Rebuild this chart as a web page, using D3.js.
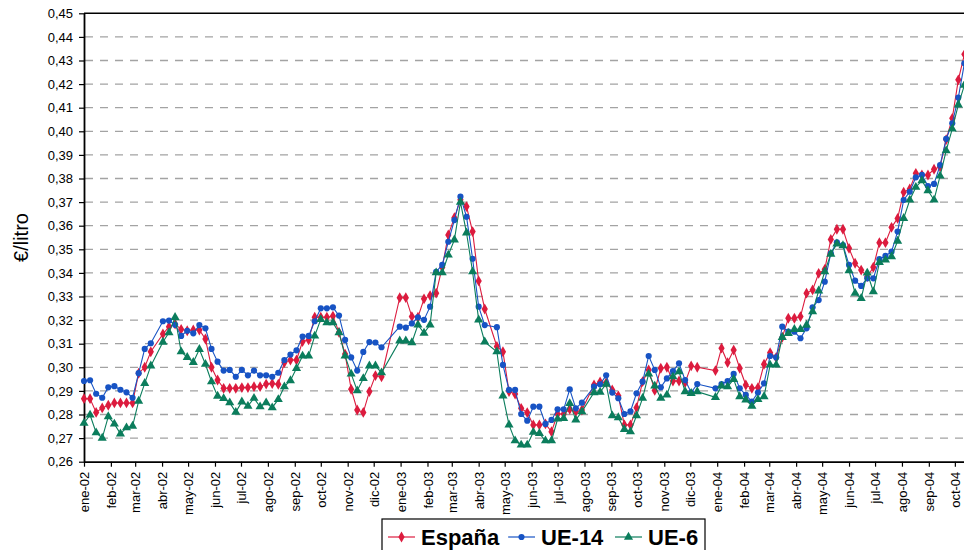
<!DOCTYPE html>
<html>
<head>
<meta charset="utf-8">
<script src="https://cdn.jsdelivr.net/npm/d3@7"></script>
<style>
  body { margin: 0; background: #fff; }
  svg { display: block; font-family: Arial, "Liberation Sans", sans-serif; }
</style>
</head>
<body>
<svg id="chart" width="964" height="550"></svg>
<script>
// Precio medio semanal (€/litro), una observación por semana desde la primera semana de 2002.
// null = semana sin dato (festivos); la línea une los puntos contiguos con dato.
const primeraSemana = new Date(2002, 0, 1);

const espana = [
  0.2867, 0.2867, 0.2809, 0.2828, 0.2839, 0.2849, 0.2849, 0.2849, 0.2849, 0.2975,
  0.3000, 0.3066, null,   0.3141, 0.3172, 0.3183, 0.3161, 0.3155, 0.3158, 0.3158,
  0.3120, 0.3000, 0.2946, 0.2911, 0.2911, 0.2911, 0.2914, 0.2914, 0.2918, 0.2918,
  0.2929, 0.2931, 0.2928, 0.3020, 0.3031, 0.3031, 0.3109, 0.3116, 0.3212, 0.3212,
  0.3212, 0.3217, 0.3148, 0.3056, 0.2907, 0.2819, 0.2809, 0.2897, 0.2965, 0.2960,
  null,   null,   0.3295, 0.3295, 0.3215, 0.3212, 0.3290, 0.3304, 0.3314, 0.3424,
  0.3561, 0.3634, 0.3710, 0.3681, 0.3575, 0.3366, 0.3247, null,   0.3088, 0.3066,
  0.2897, 0.2887, 0.2826, 0.2808, 0.2756, 0.2756, 0.2760, 0.2727, 0.2802, 0.2802,
  0.2822, 0.2812, 0.2819, null,   0.2925, 0.2938, 0.2935, 0.2904, 0.2879, 0.2756,
  0.2756, 0.2829, 0.2939, 0.2989, 0.2902, 0.2996, 0.3000, 0.2942, 0.2942, 0.2935,
  0.3006, 0.3000, null,   null,   0.2986, 0.3081, 0.3020, 0.3073, 0.2996, 0.2925,
  0.2911, 0.2914, 0.3013, 0.3062, 0.3042, 0.3127, 0.3208, 0.3208, 0.3215, 0.3314,
  0.3328, 0.3398, 0.3415, 0.3542, 0.3585, 0.3585, 0.3504, 0.3441, 0.3412, 0.3384,
  0.3424, 0.3528, 0.3528, 0.3593, 0.3631, 0.3742, 0.3756, 0.3822, 0.3815, 0.3815,
  0.3839, 0.3850, 0.3965, 0.4055, 0.4218, 0.4326
];

const ue14 = [
  0.2942, 0.2945, 0.2888, 0.2871, 0.2915, 0.2920, 0.2905, 0.2894, 0.2871, 0.2975,
  0.3078, 0.3102, null,   0.3195, 0.3198, 0.3180, 0.3133, 0.3155, 0.3144, 0.3179,
  0.3165, 0.3078, 0.3024, 0.2986, 0.2989, 0.2960, 0.2989, 0.2966, 0.2986, 0.2966,
  0.2966, 0.2960, 0.2977, 0.3031, 0.3054, 0.3072, 0.3130, 0.3133, 0.3195, 0.3250,
  0.3250, 0.3254, 0.3219, 0.3116, 0.3042, 0.2986, 0.3065, 0.3107, 0.3105, 0.3085,
  null,   null,   0.3172, 0.3168, 0.3186, 0.3212, 0.3201, 0.3257, 0.3405, 0.3434,
  0.3532, 0.3624, 0.3723, 0.3638, 0.3460, 0.3257, 0.3179, null,   0.3170, 0.3010,
  0.2904, 0.2904, 0.2802, 0.2774, 0.2833, 0.2833, 0.2760, 0.2777, 0.2822, 0.2822,
  0.2907, 0.2826, 0.2850, null,   0.2918, 0.2928, 0.2966, 0.2893, 0.2869, 0.2802,
  0.2813, 0.2890, 0.2939, 0.3048, 0.2989, 0.2915, 0.2953, 0.2984, 0.3017, 0.2946,
  0.2893, 0.2929, null,   null,   0.2911, 0.2929, 0.2942, 0.2972, 0.2911, 0.2883,
  0.2855, 0.2893, 0.2932, 0.3048, 0.3042, 0.3172, 0.3151, 0.3151, 0.3123, 0.3165,
  0.3254, 0.3285, 0.3363, 0.3483, 0.3530, 0.3518, 0.3434, 0.3367, 0.3345, 0.3377,
  0.3377, 0.3458, 0.3472, 0.3490, 0.3575, 0.3709, 0.3744, 0.3805, 0.3815, 0.3768,
  0.3777, 0.3857, 0.3968, 0.4034, 0.4143, 0.4288
];

const ue6 = [
  0.2763, 0.2798, 0.2723, 0.2700, 0.2791, 0.2760, 0.2718, 0.2744, 0.2751, 0.2857,
  0.2932, 0.3006, null,   0.3107, 0.3147, 0.3212, 0.3066, 0.3042, 0.3021, 0.3076,
  0.3013, 0.2939, 0.2878, 0.2868, 0.2850, 0.2810, 0.2854, 0.2836, 0.2869, 0.2833,
  0.2850, 0.2829, 0.2864, 0.2918, 0.2944, 0.2996, 0.3048, 0.3048, 0.3133, 0.3203,
  0.3189, 0.3189, 0.3147, 0.3048, 0.2972, 0.2901, 0.2953, 0.3006, 0.3006, 0.2977,
  null,   null,   0.3112, 0.3112, 0.3105, 0.3180, 0.3145, 0.3180, 0.3401, 0.3401,
  0.3476, 0.3540, 0.3700, 0.3570, 0.3405, 0.3201, 0.3108, null,   0.3066, 0.2879,
  0.2756, 0.2689, 0.2671, 0.2671, 0.2725, 0.2720, 0.2689, 0.2689, 0.2781, 0.2784,
  0.2847, 0.2777, 0.2812, null,   0.2893, 0.2895, 0.2929, 0.2795, 0.2787, 0.2737,
  0.2727, 0.2795, 0.2869, 0.2972, 0.2921, 0.2869, 0.2883, 0.2960, 0.2982, 0.2897,
  0.2890, 0.2897, null,   null,   0.2873, 0.2921, 0.2918, 0.2949, 0.2876, 0.2862,
  0.2836, 0.2864, 0.2876, 0.3010, 0.3010, 0.3127, 0.3144, 0.3161, 0.3161, 0.3179,
  0.3236, 0.3324, 0.3405, 0.3480, 0.3523, 0.3516, 0.3410, 0.3314, 0.3292, 0.3400,
  0.3321, 0.3445, 0.3455, 0.3469, 0.3535, 0.3631, 0.3709, 0.3763, 0.3791, 0.3749,
  0.3709, 0.3811, 0.3918, 0.4010, 0.4112, 0.4196
];

const yTickValues = [0.26, 0.27, 0.28, 0.29, 0.30, 0.31, 0.32, 0.33, 0.34, 0.35,
                     0.36, 0.37, 0.38, 0.39, 0.40, 0.41, 0.42, 0.43, 0.44, 0.45];

const monthLabels = [
  "ene-02", "feb-02", "mar-02", "abr-02", "may-02", "jun-02", "jul-02", "ago-02", "sep-02", "oct-02", "nov-02", "dic-02",
  "ene-03", "feb-03", "mar-03", "abr-03", "may-03", "jun-03", "jul-03", "ago-03", "sep-03", "oct-03", "nov-03", "dic-03",
  "ene-04", "feb-04", "mar-04", "abr-04", "may-04", "jun-04", "jul-04", "ago-04", "sep-04", "oct-04"
];

const series = [
  { name: "España", values: espana, color: "#dc1b3e", symbol: d3.symbolDiamond, size: 34 },
  { name: "UE-14",  values: ue14,   color: "#1753c4", symbol: d3.symbolCircle,  size: 30 },
  { name: "UE-6",   values: ue6,    color: "#0b7d5c", symbol: d3.symbolTriangle, size: 36 }
];

// ---- layout ----
const plot = { left: 84, right: 967, top: 13.3, bottom: 461.7 };

const x = d3.scaleTime()
  .domain([primeraSemana, new Date(2004, 9, 15)])
  .range([plot.left, plot.right]);

const y = d3.scaleLinear()
  .domain([0.26, 0.45])
  .range([plot.bottom, plot.top]);

const svg = d3.select("#chart");
const fmtComma = v => d3.format(".2f")(v).replace(".", ",");

// horizontal dashed grid
svg.append("g")
  .selectAll("line")
  .data(yTickValues.filter(v => v > 0.26 && v < 0.45))
  .join("line")
  .attr("x1", plot.left + 1).attr("x2", plot.right)
  .attr("y1", d => y(d)).attr("y2", d => y(d))
  .attr("stroke", "#a3a3a3")
  .attr("stroke-width", 1.3)
  .attr("stroke-dasharray", "8,7");

// top border of the plot area
svg.append("line")
  .attr("x1", plot.left).attr("x2", plot.right)
  .attr("y1", y(0.45)).attr("y2", y(0.45))
  .attr("stroke", "#000").attr("stroke-width", 1.5);

// y axis
const yAxis = svg.append("g")
  .attr("transform", `translate(${plot.left},0)`)
  .call(d3.axisLeft(y).tickValues(yTickValues).tickFormat(fmtComma).tickSize(5).tickSizeOuter(0));
yAxis.select(".domain").attr("stroke", "#000").attr("stroke-width", 1.8);
yAxis.selectAll(".tick line").attr("stroke", "#000").attr("stroke-width", 1.2);
yAxis.selectAll(".tick text")
  .attr("x", -11)
  .attr("font-size", 13)
  .attr("font-family", "Arial, 'Liberation Sans', sans-serif")
  .attr("fill", "#000");

// x axis with monthly ticks
const monthDates = d3.timeMonth.range(new Date(2002, 0, 1), new Date(2004, 10, 1));
const xAxis = svg.append("g")
  .attr("transform", `translate(0,${plot.bottom})`)
  .call(d3.axisBottom(x).tickValues(monthDates)
    .tickFormat((d, i) => monthLabels[i]).tickSize(5).tickSizeOuter(0));
xAxis.select(".domain").attr("stroke", "#000").attr("stroke-width", 1.8);
xAxis.selectAll(".tick line").attr("stroke", "#000").attr("stroke-width", 1.2);
xAxis.selectAll(".tick text")
  .attr("transform", "rotate(-90)")
  .attr("text-anchor", "end")
  .attr("x", -10)
  .attr("y", 0)
  .attr("dy", "0.35em")
  .attr("font-size", 13)
  .attr("font-family", "Arial, 'Liberation Sans', sans-serif")
  .attr("fill", "#000");

// y axis title
svg.append("text")
  .attr("transform", `translate(28,${(plot.top + plot.bottom) / 2}) rotate(-90)`)
  .attr("text-anchor", "middle")
  .attr("font-size", 20)
  .text("€/litro");

// lines and markers
const weekDate = i => d3.timeDay.offset(primeraSemana, 7 * i);
const line = d3.line().x(d => x(d.date)).y(d => y(d.value));

series.forEach(s => {
  const pts = s.values
    .map((v, i) => ({ date: weekDate(i), value: v }))
    .filter(d => d.value !== null);
  const g = svg.append("g");
  g.append("path")
    .datum(pts)
    .attr("d", line)
    .attr("fill", "none")
    .attr("stroke", s.color)
    .attr("stroke-width", 1.1);
  g.selectAll("path.mk")
    .data(pts)
    .join("path")
    .attr("class", "mk")
    .attr("transform", d => `translate(${x(d.date)},${y(d.value)})`)
    .attr("d", d3.symbol().type(s.symbol).size(s.size))
    .attr("fill", s.color);
});

// legend
const legend = svg.append("g");
legend.append("rect")
  .attr("x", 382).attr("y", 519).attr("width", 323).attr("height", 40)
  .attr("fill", "#fff").attr("stroke", "#000").attr("stroke-width", 1.2);
const legendPos = [388, 508, 615];
series.forEach((s, i) => {
  const lx = legendPos[i];
  legend.append("line")
    .attr("x1", lx).attr("x2", lx + 27).attr("y1", 537).attr("y2", 537)
    .attr("stroke", s.color).attr("stroke-width", 1.2);
  legend.append("path")
    .attr("transform", `translate(${lx + 13.5},537)`)
    .attr("d", d3.symbol().type(s.symbol).size(s.size))
    .attr("fill", s.color);
  legend.append("text")
    .attr("x", lx + 33).attr("y", 544.5)
    .attr("font-size", 22).attr("font-weight", "bold")
    .text(s.name);
});
</script>
</body>
</html>
